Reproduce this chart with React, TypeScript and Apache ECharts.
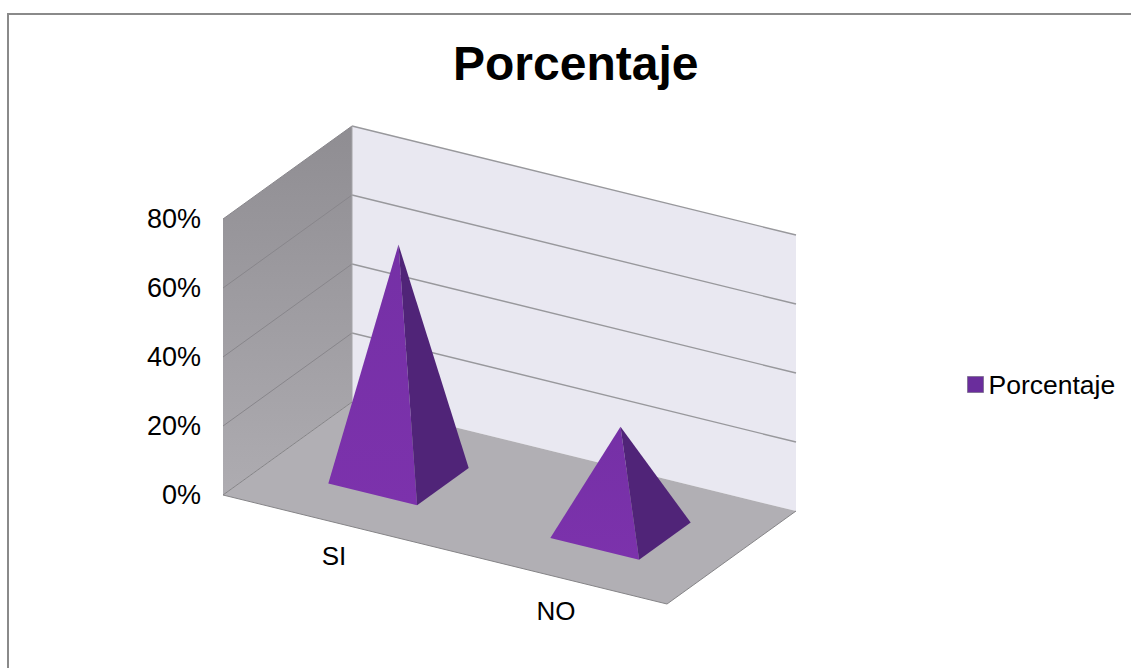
import React, { useEffect, useRef } from "react";
import * as echarts from "echarts";

const categories = ["SI", "NO"];
const percentValues = [67, 30];
const yTicks = [0, 20, 40, 60, 80];
const seriesName = "Porcentaje";

// Oblique projection of the 3D box: the front edge slopes down to the right,
// and depth runs up and to the right.
const SHEAR = 0.2455;
const DEPTH_X = 129;
const DEPTH_Y = -93;
const MARK_WIDTH = 0.4;
const MARK_DEPTH = 0.4;

const FONT = '"Liberation Sans", Arial, sans-serif';

function project(originX: number, x: number, y: number, depth: number): number[] {
  return [x + DEPTH_X * depth, y + SHEAR * (x - originX) + DEPTH_Y * depth];
}

function renderBox(params: any, api: any) {
  const sys = params.coordSys;
  const left = sys.x;
  const right = sys.x + sys.width;
  const y0 = api.coord([0, 0])[1];
  const yMax = api.coord([0, yTicks[yTicks.length - 1]])[1];
  const children: any[] = [];

  const poly = (points: number[][], fill: any) => ({
    type: "polygon",
    shape: { points },
    style: { fill, stroke: "none" },
  });
  const line = (points: number[][], stroke: string, lineWidth: number) => ({
    type: "polyline",
    shape: { points },
    style: { fill: "none", stroke, lineWidth },
  });

  // back wall
  children.push(
    poly(
      [
        project(left, left, yMax, 1),
        project(left, right, yMax, 1),
        project(left, right, y0, 1),
        project(left, left, y0, 1),
      ],
      "#e9e8f1"
    )
  );
  // side wall
  children.push(
    poly(
      [
        project(left, left, yMax, 0),
        project(left, left, yMax, 1),
        project(left, left, y0, 1),
        project(left, left, y0, 0),
      ],
      {
        type: "linear",
        x: 0,
        y: 0,
        x2: 0,
        y2: 1,
        colorStops: [
          { offset: 0, color: "#8f8d92" },
          { offset: 1, color: "#aeacb1" },
        ],
      }
    )
  );
  // gridlines on both walls
  yTicks.forEach((tick) => {
    const y = api.coord([0, tick])[1];
    if (tick > 0) {
      children.push(line([project(left, left, y, 0), project(left, left, y, 1)], "#88868b", 1));
      children.push(line([project(left, left, y, 1), project(left, right, y, 1)], "#98989c", 1.4));
    }
  });
  // floor
  children.push(
    poly(
      [
        project(left, left, y0, 0),
        project(left, right, y0, 0),
        project(left, right, y0, 1),
        project(left, left, y0, 1),
      ],
      "#b1afb4"
    )
  );
  children.push(
    line(
      [
        project(left, left, y0, 1),
        project(left, left, y0, 0),
        project(left, right, y0, 0),
        project(left, right, y0, 1),
      ],
      "#858487",
      1
    )
  );
  children.push(line([project(left, left, yMax, 1), project(left, left, y0, 1)], "#a5a4a8", 1));

  return { type: "group", children };
}

function renderPyramid(params: any, api: any) {
  const sys = params.coordSys;
  const left = sys.x;
  const index = api.value(0);
  const center = api.coord([index, 0]);
  const apexCoord = api.coord([index, api.value(1)]);
  const halfW = (api.size([1, 0])[0] * MARK_WIDTH) / 2;
  const halfD = MARK_DEPTH / 2;
  const cx = center[0];
  const y0 = center[1];

  const apex = project(left, cx, apexCoord[1], 0.5);
  const frontLeft = project(left, cx - halfW, y0, 0.5 - halfD);
  const frontRight = project(left, cx + halfW, y0, 0.5 - halfD);
  const backRight = project(left, cx + halfW, y0, 0.5 + halfD);
  const labelAnchor = project(left, cx, y0, 0);

  return {
    type: "group",
    children: [
      {
        type: "polygon",
        shape: { points: [apex, frontLeft, frontRight] },
        style: {
          fill: {
            type: "linear",
            x: 0,
            y: 0,
            x2: 0,
            y2: 1,
            colorStops: [
              { offset: 0, color: "#7530a6" },
              { offset: 1, color: "#7c32ac" },
            ],
          },
          stroke: "none",
        },
      },
      {
        type: "polygon",
        shape: { points: [apex, frontRight, backRight] },
        style: { fill: "#502478", stroke: "none" },
      },
      {
        type: "text",
        style: {
          x: labelAnchor[0],
          y: labelAnchor[1] + 34,
          text: categories[index],
          fill: "#000000",
          font: `26px ${FONT}`,
          align: "center",
          verticalAlign: "middle",
        },
      },
    ],
  };
}

export default function App() {
  const ref = useRef<HTMLDivElement>(null);

  useEffect(() => {
    const chart = echarts.init(ref.current!, undefined, { renderer: "svg" });
    chart.setOption({
      animation: false,
      backgroundColor: "#ffffff",
      title: {
        text: seriesName,
        left: 448,
        top: 34,
        textStyle: { fontFamily: FONT, fontWeight: "bold", fontSize: 48, color: "#000000" },
      },
      legend: {
        left: 962,
        top: 366,
        itemWidth: 16,
        itemHeight: 16,
        icon: "rect",
        data: [seriesName],
        textStyle: { fontFamily: FONT, fontSize: 26.5, color: "#000000" },
        itemStyle: { borderColor: "#86759a", borderWidth: 1 },
      },
      grid: { left: 223, top: 219, width: 444, height: 276, containLabel: false },
      xAxis: {
        type: "category",
        data: categories,
        axisLine: { show: false },
        axisTick: { show: false },
        axisLabel: { show: false },
        splitLine: { show: false },
      },
      yAxis: {
        type: "value",
        min: 0,
        max: 80,
        interval: 20,
        axisLine: { show: false },
        axisTick: { show: false },
        splitLine: { show: false },
        axisLabel: {
          formatter: "{value}%",
          margin: 22,
          fontFamily: FONT,
          fontSize: 27,
          color: "#000000",
        },
      },
      graphic: [
        {
          type: "polyline",
          shape: { points: [[8, 668], [8, 14], [1131, 14]] },
          style: { fill: "none", stroke: "#8a8a8a", lineWidth: 2 },
          silent: true,
        },
      ],
      series: [
        {
          name: "walls",
          type: "custom",
          coordinateSystem: "cartesian2d",
          clip: false,
          z: 1,
          silent: true,
          renderItem: renderBox,
          data: [[0, 0]],
          encode: { x: 0, y: 1 },
        },
        {
          name: seriesName,
          type: "custom",
          coordinateSystem: "cartesian2d",
          clip: false,
          z: 2,
          itemStyle: { color: "#6a2d9c" },
          renderItem: renderPyramid,
          data: categories.map((_, i) => [i, percentValues[i]]),
          encode: { x: 0, y: 1 },
        },
      ],
    });
    return () => chart.dispose();
  }, []);

  return (
    <div
      ref={ref}
      style={{ position: "absolute", left: 0, top: 0, width: 1131, height: 668 }}
    />
  );
}
